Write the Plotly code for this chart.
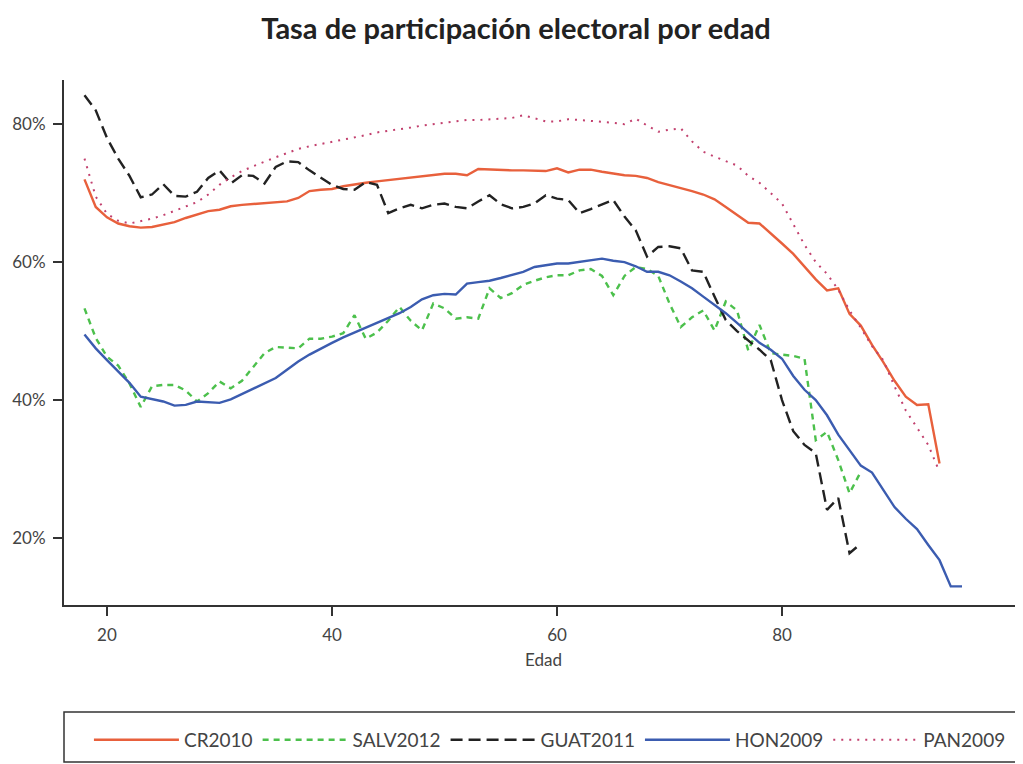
import plotly.graph_objects as go

cr_ages = list(range(18, 95))
cr2010 = [72.0, 68.0, 66.5, 65.6, 65.2, 65.0, 65.1, 65.4, 65.8, 66.4, 66.9, 67.4, 67.6, 68.1, 68.3, 68.4,
          68.6, 68.7, 68.8, 69.3, 70.3, 70.5, 70.6, 71.0, 71.3, 71.5, 71.7, 71.9, 72.1, 72.3, 72.5, 72.7,
          72.8, 72.8, 72.6, 73.5, 73.4, 73.4, 73.3, 73.3, 73.3, 73.2, 73.6, 73.0, 73.4, 73.4, 73.1, 72.8,
          72.6, 72.5, 72.2, 71.6, 71.2, 70.8, 70.3, 69.8, 69.1, 68.0, 66.8, 65.7, 65.6, 64.2, 62.7, 61.2,
          59.3, 57.5, 55.9, 56.2, 52.5, 50.8, 48.0, 45.5, 42.8, 40.5, 39.3, 39.4, 30.8]

salv_ages = list(range(18, 88))
salv2012 = [53.3, 49.0, 46.3, 45.0, 42.4, 39.0, 42.0, 42.2, 42.2, 41.4, 39.8, 41.0, 42.7, 41.7, 42.8, 44.8,
            46.8, 47.7, 47.6, 47.5, 48.9, 48.9, 49.2, 49.7, 52.3, 48.9, 49.8, 51.5, 53.5, 51.5, 50.1, 54.0,
            53.3, 51.8, 52.0, 51.8, 56.2, 54.8, 55.5, 56.7, 57.3, 57.8, 58.1, 58.1, 58.8, 59.0, 58.0, 55.2,
            58.0, 59.3, 59.0, 58.0, 54.0, 50.6, 52.0, 53.0, 50.1, 54.3, 53.0, 47.2, 50.9, 46.8, 46.6, 46.4,
            46.0, 34.2, 35.4, 31.3, 26.5, 29.6]

guat_ages = list(range(18, 88))
guat2011 = [84.2, 82.0, 78.0, 75.0, 72.5, 69.4, 69.8, 71.3, 69.6, 69.5, 70.2, 72.2, 73.3, 71.4, 72.6, 72.5,
            71.4, 73.8, 74.6, 74.5, 73.3, 72.3, 71.2, 70.6, 70.5, 71.6, 71.2, 67.1, 67.8, 68.3, 67.8, 68.3,
            68.5, 68.0, 67.8, 68.8, 69.7, 68.4, 67.8, 68.0, 68.5, 69.7, 69.2, 69.0, 67.1, 67.7, 68.3, 69.0,
            66.6, 64.6, 60.8, 62.2, 62.3, 62.0, 58.8, 58.6, 55.0, 51.6, 50.0, 48.7, 47.3, 45.8, 40.0, 35.5,
            33.5, 32.3, 24.1, 25.8, 17.8, 19.2]

hon_ages = list(range(18, 97))
hon2009 = [49.5, 47.5, 45.8, 44.2, 42.5, 40.5, 40.2, 39.8, 39.2, 39.3, 39.8, 39.7, 39.6, 40.1, 40.9, 41.7,
           42.4, 43.2, 44.4, 45.6, 46.6, 47.5, 48.3, 49.1, 49.8, 50.5, 51.2, 51.8, 52.6, 53.5, 54.6, 55.2,
           55.4, 55.3, 56.9, 57.1, 57.3, 57.7, 58.1, 58.6, 59.3, 59.5, 59.8, 59.8, 60.0, 60.2, 60.5, 60.2,
           60.0, 59.4, 58.6, 58.6, 58.1, 57.2, 56.2, 55.0, 53.8, 52.6, 51.2, 49.8, 48.3, 47.3, 46.0, 43.5,
           41.5, 40.0, 37.8, 35.0, 32.8, 30.5, 29.5, 27.0, 24.5, 22.8, 21.3, 19.0, 16.8, 13.0, 13.0]

pan_ages = list(range(18, 95))
pan2009 = [75.0, 69.5, 67.0, 66.0, 65.6, 65.9, 66.3, 66.8, 67.4, 68.0, 68.7, 69.8, 71.2, 72.3, 73.2, 73.9,
           74.6, 75.2, 75.8, 76.4, 76.8, 77.1, 77.4, 77.7, 78.0, 78.4, 78.8, 79.0, 79.3, 79.5, 79.8, 80.0,
           80.2, 80.5, 80.6, 80.6, 80.7, 80.8, 80.9, 81.3, 80.8, 80.4, 80.4, 80.7, 80.6, 80.5, 80.4, 80.2,
           80.0, 80.8, 79.8, 78.9, 79.2, 79.4, 77.5, 76.0, 75.3, 74.7, 74.0, 72.5, 71.5, 70.0, 68.5, 65.5,
           62.5, 60.0, 58.3, 56.0, 53.0, 50.5, 47.8, 45.8, 42.0, 38.5, 36.0, 33.5, 29.6]

x_ticks = [20, 40, 60, 80]
y_ticks = [20, 40, 60, 80]
y_tick_labels = ["20%", "40%", "60%", "80%"]

FONT = "Lato, 'Open Sans', sans-serif"

fig = go.Figure()
fig.add_trace(go.Scatter(x=cr_ages, y=cr2010, name="CR2010", mode="lines",
                         line=dict(color="#e8603c", width=2.4)))
fig.add_trace(go.Scatter(x=salv_ages, y=salv2012, name="SALV2012", mode="lines",
                         line=dict(color="#4cc04c", width=2.4, dash="6px,5px")))
fig.add_trace(go.Scatter(x=guat_ages, y=guat2011, name="GUAT2011", mode="lines",
                         line=dict(color="#222222", width=2.4, dash="12px,6px")))
fig.add_trace(go.Scatter(x=hon_ages, y=hon2009, name="HON2009", mode="lines",
                         line=dict(color="#3b5cb0", width=2.4)))
fig.add_trace(go.Scatter(x=pan_ages, y=pan2009, name="PAN2009", mode="lines",
                         line=dict(color="#c2406e", width=2.0, dash="2px,6px")))

fig.update_layout(
    width=1023, height=764,
    paper_bgcolor="white", plot_bgcolor="white",
    margin=dict(l=56, r=8, t=72, b=167, autoexpand=False),
    font=dict(family=FONT, color="#444", size=17),
    title=dict(text="<b>Tasa de participación electoral por edad</b>", x=0.4966, xanchor="center",
               y=0.9725, yanchor="middle", font=dict(size=29, color="#222", family=FONT)),
    showlegend=True,
    legend=dict(orientation="h", x=0.026, xanchor="left", y=-0.257, yanchor="middle",
                font=dict(size=19, color="#444", family=FONT),
                bgcolor="rgba(0,0,0,0)", borderwidth=0, itemwidth=85),
    xaxis=dict(range=[16.18, 101.42], tickvals=x_ticks, showgrid=False, zeroline=False,
               showline=True, linecolor="#333", linewidth=2, ticks="outside", ticklen=9,
               tickcolor="#333", tickwidth=1.5, ticklabelstandoff=5,
               title=dict(text="Edad", standoff=10, font=dict(size=17, color="#444")),
               tickfont=dict(size=17, color="#444")),
    yaxis=dict(range=[10.3, 86.4], tickvals=y_ticks, ticktext=y_tick_labels, showgrid=False,
               zeroline=False, showline=True, linecolor="#333", linewidth=2, ticks="outside",
               ticklen=9, tickcolor="#333", tickwidth=1.5, ticklabelstandoff=4,
               tickfont=dict(size=17, color="#444")),
    shapes=[dict(type="rect", xref="paper", yref="paper", x0=0, x1=1.05, y0=-0.299, y1=-0.204,
                 line=dict(color="#333", width=1.5), fillcolor="rgba(0,0,0,0)")],
)

fig.write_html("out.html")
